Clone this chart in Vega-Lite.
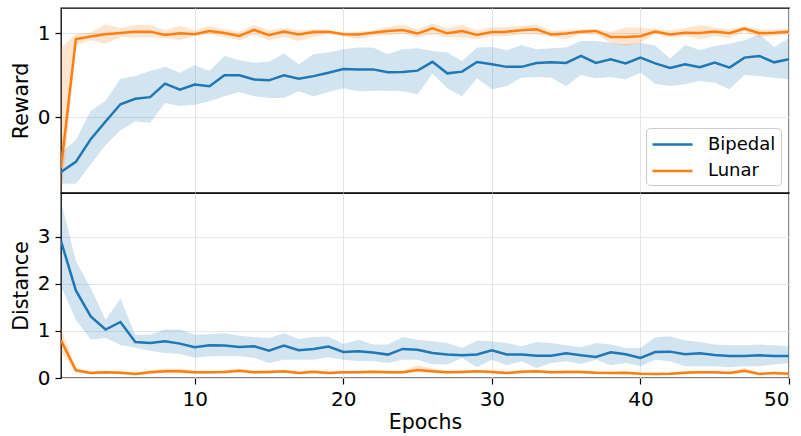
{
  "$schema": "https://vega.github.io/schema/vega-lite/v6.json",
  "padding": {"left": 10, "top": 7, "right": 0, "bottom": 0},
  "spacing": 0,
  "bounds": "flush",
  "config": {
    "font": "DejaVu Sans",
    "view": {"stroke": "black", "strokeWidth": 1.3},
    "axis": {
      "labelFont": "DejaVu Sans", "titleFont": "DejaVu Sans",
      "labelFontSize": 20, "titleFontSize": 20.5, "titleFontWeight": "normal",
      "labelColor": "#000000", "titleColor": "#000000",
      "tickColor": "#000000", "tickWidth": 1.2, "tickSize": 6,
      "labelPadding": 5, "titlePadding": 6,
      "domain": false, "gridColor": "#e6e6e6", "gridWidth": 1
    },
    "legend": {"labelFont": "DejaVu Sans"}
  },
  "resolve": {"legend": {"color": "independent"}},
  "datasets": {
    "d": [
      {"e":1,"s":"Bipedal","r":-0.65,"rl":-0.79,"rh":-0.42,"d":2.91,"dl":1.95,"dh":3.76},
      {"e":2,"s":"Bipedal","r":-0.53,"rl":-0.79,"rh":-0.27,"d":1.86,"dl":1.24,"dh":2.48},
      {"e":3,"s":"Bipedal","r":-0.26,"rl":-0.56,"rh":0.075,"d":1.31,"dl":0.82,"dh":1.91},
      {"e":4,"s":"Bipedal","r":-0.05,"rl":-0.33,"rh":0.2,"d":1.03,"dl":0.85,"dh":1.24},
      {"e":5,"s":"Bipedal","r":0.155,"rl":-0.155,"rh":0.46,"d":1.19,"dl":0.7,"dh":1.69},
      {"e":6,"s":"Bipedal","r":0.22,"rl":-0.05,"rh":0.49,"d":0.766,"dl":0.64,"dh":0.92},
      {"e":7,"s":"Bipedal","r":0.24,"rl":-0.065,"rh":0.55,"d":0.745,"dl":0.58,"dh":0.92},
      {"e":8,"s":"Bipedal","r":0.4,"rl":0.17,"rh":0.6,"d":0.78,"dl":0.53,"dh":1.03},
      {"e":9,"s":"Bipedal","r":0.33,"rl":0.135,"rh":0.53,"d":0.73,"dl":0.51,"dh":1.03},
      {"e":10,"s":"Bipedal","r":0.39,"rl":0.15,"rh":0.62,"d":0.653,"dl":0.43,"dh":0.92},
      {"e":11,"s":"Bipedal","r":0.37,"rl":0.19,"rh":0.55,"d":0.695,"dl":0.46,"dh":0.93},
      {"e":12,"s":"Bipedal","r":0.5,"rl":0.25,"rh":0.73,"d":0.69,"dl":0.46,"dh":0.95},
      {"e":13,"s":"Bipedal","r":0.5,"rl":0.3,"rh":0.68,"d":0.66,"dl":0.46,"dh":0.9},
      {"e":14,"s":"Bipedal","r":0.45,"rl":0.25,"rh":0.65,"d":0.675,"dl":0.43,"dh":0.87},
      {"e":15,"s":"Bipedal","r":0.44,"rl":0.23,"rh":0.66,"d":0.58,"dl":0.32,"dh":0.85},
      {"e":16,"s":"Bipedal","r":0.5,"rl":0.23,"rh":0.76,"d":0.69,"dl":0.39,"dh":0.95},
      {"e":17,"s":"Bipedal","r":0.46,"rl":0.31,"rh":0.63,"d":0.59,"dl":0.39,"dh":0.83},
      {"e":18,"s":"Bipedal","r":0.49,"rl":0.25,"rh":0.75,"d":0.617,"dl":0.39,"dh":0.87},
      {"e":19,"s":"Bipedal","r":0.53,"rl":0.3,"rh":0.77,"d":0.667,"dl":0.44,"dh":0.88},
      {"e":20,"s":"Bipedal","r":0.575,"rl":0.345,"rh":0.81,"d":0.553,"dl":0.39,"dh":0.72},
      {"e":21,"s":"Bipedal","r":0.57,"rl":0.31,"rh":0.83,"d":0.567,"dl":0.36,"dh":0.81},
      {"e":22,"s":"Bipedal","r":0.57,"rl":0.315,"rh":0.83,"d":0.54,"dl":0.36,"dh":0.71},
      {"e":23,"s":"Bipedal","r":0.535,"rl":0.315,"rh":0.75,"d":0.497,"dl":0.32,"dh":0.71},
      {"e":24,"s":"Bipedal","r":0.54,"rl":0.31,"rh":0.81,"d":0.617,"dl":0.39,"dh":0.87},
      {"e":25,"s":"Bipedal","r":0.555,"rl":0.27,"rh":0.82,"d":0.6,"dl":0.39,"dh":0.81},
      {"e":26,"s":"Bipedal","r":0.66,"rl":0.52,"rh":0.79,"d":0.53,"dl":0.29,"dh":0.78},
      {"e":27,"s":"Bipedal","r":0.523,"rl":0.345,"rh":0.77,"d":0.5,"dl":0.285,"dh":0.745},
      {"e":28,"s":"Bipedal","r":0.543,"rl":0.25,"rh":0.67,"d":0.482,"dl":0.426,"dh":0.638},
      {"e":29,"s":"Bipedal","r":0.658,"rl":0.464,"rh":0.83,"d":0.5,"dl":0.227,"dh":0.795},
      {"e":30,"s":"Bipedal","r":0.631,"rl":0.333,"rh":0.837,"d":0.587,"dl":0.39,"dh":0.78},
      {"e":31,"s":"Bipedal","r":0.6,"rl":0.372,"rh":0.797,"d":0.5,"dl":0.27,"dh":0.745},
      {"e":32,"s":"Bipedal","r":0.6,"rl":0.472,"rh":0.86,"d":0.5,"dl":0.355,"dh":0.674},
      {"e":33,"s":"Bipedal","r":0.646,"rl":0.48,"rh":0.81,"d":0.475,"dl":0.213,"dh":0.766},
      {"e":34,"s":"Bipedal","r":0.654,"rl":0.472,"rh":0.82,"d":0.475,"dl":0.32,"dh":0.745},
      {"e":35,"s":"Bipedal","r":0.646,"rl":0.372,"rh":0.83,"d":0.525,"dl":0.355,"dh":0.695},
      {"e":36,"s":"Bipedal","r":0.73,"rl":0.504,"rh":0.908,"d":0.482,"dl":0.298,"dh":0.652},
      {"e":37,"s":"Bipedal","r":0.646,"rl":0.464,"rh":0.908,"d":0.447,"dl":0.39,"dh":0.745},
      {"e":38,"s":"Bipedal","r":0.69,"rl":0.48,"rh":0.888,"d":0.546,"dl":0.27,"dh":0.71},
      {"e":39,"s":"Bipedal","r":0.642,"rl":0.452,"rh":0.868,"d":0.504,"dl":0.32,"dh":0.638},
      {"e":40,"s":"Bipedal","r":0.71,"rl":0.53,"rh":0.888,"d":0.426,"dl":0.25,"dh":0.638},
      {"e":41,"s":"Bipedal","r":0.642,"rl":0.4,"rh":0.85,"d":0.553,"dl":0.39,"dh":0.866},
      {"e":42,"s":"Bipedal","r":0.587,"rl":0.372,"rh":0.7,"d":0.56,"dl":0.355,"dh":0.887},
      {"e":43,"s":"Bipedal","r":0.63,"rl":0.392,"rh":0.86,"d":0.504,"dl":0.249,"dh":0.795},
      {"e":44,"s":"Bipedal","r":0.595,"rl":0.432,"rh":0.8,"d":0.525,"dl":0.249,"dh":0.766},
      {"e":45,"s":"Bipedal","r":0.65,"rl":0.412,"rh":0.848,"d":0.49,"dl":0.249,"dh":0.71},
      {"e":46,"s":"Bipedal","r":0.591,"rl":0.333,"rh":0.876,"d":0.468,"dl":0.227,"dh":0.695},
      {"e":47,"s":"Bipedal","r":0.71,"rl":0.504,"rh":0.916,"d":0.468,"dl":0.249,"dh":0.695},
      {"e":48,"s":"Bipedal","r":0.73,"rl":0.49,"rh":0.988,"d":0.482,"dl":0.249,"dh":0.71},
      {"e":49,"s":"Bipedal","r":0.654,"rl":0.472,"rh":0.837,"d":0.468,"dl":0.285,"dh":0.695},
      {"e":50,"s":"Bipedal","r":0.69,"rl":0.452,"rh":0.94,"d":0.468,"dl":0.32,"dh":0.674},
      {"e":1,"s":"Lunar","r":-0.6,"rl":-1.0,"rh":0.83,"d":0.8,"dl":0.55,"dh":1.06},
      {"e":2,"s":"Lunar","r":0.93,"rl":0.85,"rh":0.99,"d":0.163,"dl":0.12,"dh":0.21},
      {"e":3,"s":"Lunar","r":0.96,"rl":0.916,"rh":1.007,"d":0.107,"dl":0.08,"dh":0.14},
      {"e":4,"s":"Lunar","r":0.988,"rl":0.876,"rh":1.107,"d":0.12,"dl":0.09,"dh":0.15},
      {"e":5,"s":"Lunar","r":1.003,"rl":0.956,"rh":1.059,"d":0.113,"dl":0.08,"dh":0.145},
      {"e":6,"s":"Lunar","r":1.019,"rl":0.948,"rh":1.099,"d":0.085,"dl":0.06,"dh":0.115},
      {"e":7,"s":"Lunar","r":1.019,"rl":0.956,"rh":1.099,"d":0.12,"dl":0.09,"dh":0.16},
      {"e":8,"s":"Lunar","r":0.98,"rl":0.94,"rh":1.035,"d":0.142,"dl":0.1,"dh":0.2},
      {"e":9,"s":"Lunar","r":0.999,"rl":0.916,"rh":1.087,"d":0.142,"dl":0.1,"dh":0.2},
      {"e":10,"s":"Lunar","r":0.988,"rl":0.968,"rh":1.035,"d":0.12,"dl":0.09,"dh":0.15},
      {"e":11,"s":"Lunar","r":1.027,"rl":0.988,"rh":1.087,"d":0.12,"dl":0.09,"dh":0.15},
      {"e":12,"s":"Lunar","r":1.003,"rl":0.956,"rh":1.047,"d":0.128,"dl":0.1,"dh":0.16},
      {"e":13,"s":"Lunar","r":0.968,"rl":0.916,"rh":1.019,"d":0.155,"dl":0.12,"dh":0.19},
      {"e":14,"s":"Lunar","r":1.039,"rl":0.98,"rh":1.099,"d":0.12,"dl":0.09,"dh":0.15},
      {"e":15,"s":"Lunar","r":0.976,"rl":0.916,"rh":1.035,"d":0.128,"dl":0.1,"dh":0.16},
      {"e":16,"s":"Lunar","r":1.019,"rl":0.956,"rh":1.059,"d":0.142,"dl":0.11,"dh":0.17},
      {"e":17,"s":"Lunar","r":0.984,"rl":0.908,"rh":1.035,"d":0.106,"dl":0.08,"dh":0.135},
      {"e":18,"s":"Lunar","r":1.015,"rl":0.956,"rh":1.047,"d":0.135,"dl":0.1,"dh":0.165},
      {"e":19,"s":"Lunar","r":1.019,"rl":0.988,"rh":1.035,"d":0.106,"dl":0.08,"dh":0.135},
      {"e":20,"s":"Lunar","r":0.988,"rl":0.968,"rh":1.015,"d":0.12,"dl":0.09,"dh":0.15},
      {"e":21,"s":"Lunar","r":0.984,"rl":0.928,"rh":1.015,"d":0.12,"dl":0.09,"dh":0.15},
      {"e":22,"s":"Lunar","r":1.007,"rl":0.968,"rh":1.035,"d":0.135,"dl":0.1,"dh":0.165},
      {"e":23,"s":"Lunar","r":1.027,"rl":0.98,"rh":1.075,"d":0.12,"dl":0.09,"dh":0.15},
      {"e":24,"s":"Lunar","r":1.039,"rl":0.992,"rh":1.099,"d":0.12,"dl":0.09,"dh":0.15},
      {"e":25,"s":"Lunar","r":0.996,"rl":0.948,"rh":1.047,"d":0.17,"dl":0.12,"dh":0.27},
      {"e":26,"s":"Lunar","r":1.059,"rl":0.988,"rh":1.115,"d":0.142,"dl":0.1,"dh":0.2},
      {"e":27,"s":"Lunar","r":0.999,"rl":0.948,"rh":1.059,"d":0.12,"dl":0.09,"dh":0.15},
      {"e":28,"s":"Lunar","r":1.027,"rl":0.948,"rh":1.099,"d":0.128,"dl":0.1,"dh":0.16},
      {"e":29,"s":"Lunar","r":0.98,"rl":0.928,"rh":1.035,"d":0.142,"dl":0.11,"dh":0.17},
      {"e":30,"s":"Lunar","r":1.015,"rl":0.968,"rh":1.067,"d":0.128,"dl":0.1,"dh":0.16},
      {"e":31,"s":"Lunar","r":1.019,"rl":0.968,"rh":1.075,"d":0.106,"dl":0.08,"dh":0.135},
      {"e":32,"s":"Lunar","r":1.035,"rl":0.988,"rh":1.087,"d":0.135,"dl":0.1,"dh":0.165},
      {"e":33,"s":"Lunar","r":1.047,"rl":0.988,"rh":1.107,"d":0.142,"dl":0.11,"dh":0.17},
      {"e":34,"s":"Lunar","r":0.984,"rl":0.956,"rh":1.027,"d":0.12,"dl":0.09,"dh":0.15},
      {"e":35,"s":"Lunar","r":0.996,"rl":0.928,"rh":1.035,"d":0.128,"dl":0.1,"dh":0.16},
      {"e":36,"s":"Lunar","r":1.019,"rl":0.988,"rh":1.047,"d":0.128,"dl":0.1,"dh":0.16},
      {"e":37,"s":"Lunar","r":1.027,"rl":0.988,"rh":1.047,"d":0.113,"dl":0.08,"dh":0.145},
      {"e":38,"s":"Lunar","r":0.956,"rl":0.888,"rh":1.019,"d":0.106,"dl":0.08,"dh":0.135},
      {"e":39,"s":"Lunar","r":0.956,"rl":0.849,"rh":1.067,"d":0.113,"dl":0.08,"dh":0.145},
      {"e":40,"s":"Lunar","r":0.964,"rl":0.888,"rh":1.067,"d":0.092,"dl":0.07,"dh":0.12},
      {"e":41,"s":"Lunar","r":1.019,"rl":0.988,"rh":1.047,"d":0.085,"dl":0.06,"dh":0.11},
      {"e":42,"s":"Lunar","r":0.984,"rl":0.948,"rh":1.035,"d":0.092,"dl":0.07,"dh":0.12},
      {"e":43,"s":"Lunar","r":1.007,"rl":0.968,"rh":1.059,"d":0.113,"dl":0.08,"dh":0.145},
      {"e":44,"s":"Lunar","r":1.003,"rl":0.928,"rh":1.099,"d":0.12,"dl":0.09,"dh":0.15},
      {"e":45,"s":"Lunar","r":1.019,"rl":0.968,"rh":1.067,"d":0.12,"dl":0.09,"dh":0.15},
      {"e":46,"s":"Lunar","r":0.999,"rl":0.94,"rh":1.047,"d":0.106,"dl":0.08,"dh":0.135},
      {"e":47,"s":"Lunar","r":1.055,"rl":1.019,"rh":1.087,"d":0.155,"dl":0.11,"dh":0.21},
      {"e":48,"s":"Lunar","r":0.999,"rl":0.948,"rh":1.047,"d":0.085,"dl":0.06,"dh":0.115},
      {"e":49,"s":"Lunar","r":1.007,"rl":0.968,"rh":1.047,"d":0.106,"dl":0.08,"dh":0.135},
      {"e":50,"s":"Lunar","r":1.019,"rl":0.988,"rh":1.047,"d":0.092,"dl":0.07,"dh":0.12}
    ]
  },
  "vconcat": [
    {
      "width": 728, "height": 185,
      "data": {"name": "d"},
      "encoding": {
        "x": {"field": "e", "type": "quantitative",
              "scale": {"domain": [1, 50], "nice": false, "zero": false},
              "axis": {"values": [10, 20, 30, 40, 50], "labels": false, "ticks": false, "title": null, "grid": true, "minExtent": 0, "maxExtent": 0}},
        "color": {"field": "s", "type": "nominal",
                  "scale": {"domain": ["Bipedal", "Lunar"], "range": ["#1f77b4", "#ff7f0e"]},
                  "legend": {"title": null, "orient": "bottom-right", "offset": 8,
                             "symbolType": "M-1,0H3", "symbolSize": 400, "symbolStrokeWidth": 2.5,
                             "symbolOpacity": 1, "symbolFillColor": "transparent",
                             "labelFontSize": 18, "labelColor": "#000000", "labelOffset": 34,
                             "fillColor": "#ffffff", "strokeColor": "#cccccc", "cornerRadius": 4,
                             "padding": 5, "rowPadding": 5.5}}
      },
      "layer": [
        {
          "mark": {"type": "area", "opacity": 0.2, "clip": true},
          "encoding": {
            "y": {"field": "rl", "type": "quantitative",
                  "scale": {"domain": [-0.9, 1.3], "nice": false, "zero": false},
                  "axis": {"values": [0, 1], "format": "d", "title": "Reward", "grid": true}},
            "y2": {"field": "rh"}
          }
        },
        {
          "mark": {"type": "line", "strokeWidth": 2.5, "clip": true},
          "encoding": {
            "y": {"field": "r", "type": "quantitative"}
          }
        }
      ]
    },
    {
      "width": 728, "height": 185,
      "data": {"name": "d"},
      "encoding": {
        "x": {"field": "e", "type": "quantitative",
              "scale": {"domain": [1, 50], "nice": false, "zero": false},
              "axis": {"values": [10, 20, 30, 40, 50], "title": "Epochs", "grid": true, "titlePadding": 3}},
        "color": {"field": "s", "type": "nominal", "legend": null,
                  "scale": {"domain": ["Bipedal", "Lunar"], "range": ["#1f77b4", "#ff7f0e"]}}
      },
      "layer": [
        {
          "mark": {"type": "area", "opacity": 0.2, "clip": true},
          "encoding": {
            "y": {"field": "dl", "type": "quantitative",
                  "scale": {"domain": [0, 3.93], "nice": false},
                  "axis": {"values": [0, 1, 2, 3], "format": "d", "title": "Distance", "grid": true}},
            "y2": {"field": "dh"}
          }
        },
        {
          "mark": {"type": "line", "strokeWidth": 2.5, "clip": true},
          "encoding": {
            "y": {"field": "d", "type": "quantitative"}
          }
        }
      ]
    }
  ]
}
